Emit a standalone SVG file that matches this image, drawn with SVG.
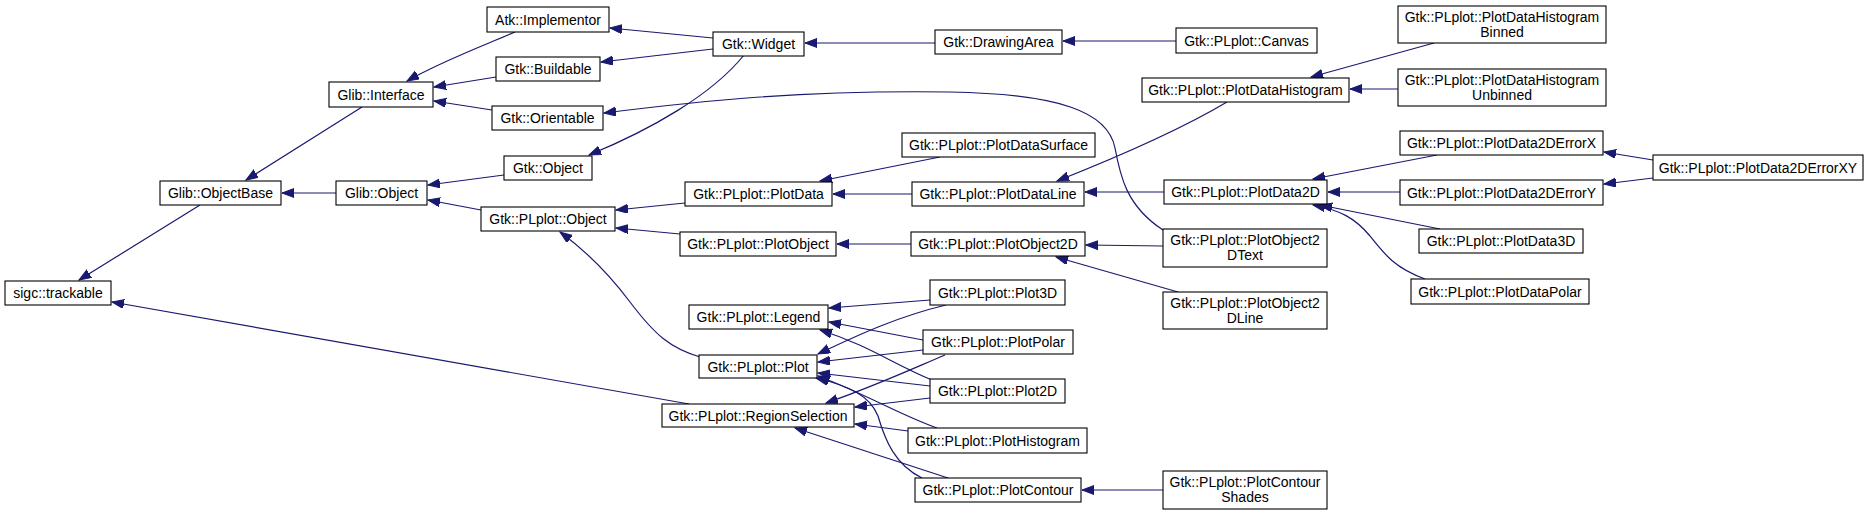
<svg xmlns="http://www.w3.org/2000/svg" width="1867" height="515" viewBox="0 0 1867 515">
<defs>
<style>
.n rect{fill:#fff;stroke:#000;stroke-width:1.1}
.n text{font-family:"Liberation Sans",Arial,sans-serif;font-size:14px;fill:#000;text-anchor:middle}
.e path{fill:none;stroke:#191970;stroke-width:1.2;marker-end:url(#ah)}
</style>
<marker id="ah" markerUnits="userSpaceOnUse" markerWidth="13" markerHeight="10" refX="12" refY="4.5" orient="auto">
<path d="M0,0 L12,4.5 L0,9 z" fill="#191970" stroke="#191970" stroke-width="1"/>
</marker>
</defs>
<rect width="1867" height="515" fill="#fff"/>
<g class="e" id="edges">
<path d="M200,205 L79,280"/>
<path d="M689,404 L112,302"/>
<path d="M362,107 L246,180"/>
<path d="M336,193 L282,193"/>
<path d="M515,32 C480,47 440,62 407,81"/>
<path d="M496,77 L434,87"/>
<path d="M492,110 L434,101"/>
<path d="M504,175 L428,185"/>
<path d="M481,210 L428,200"/>
<path d="M713,38 L610,28"/>
<path d="M713,49 L601,62"/>
<path d="M744,55 C712,95 650,130 589,155"/>
<path d="M1163,230 C1126,206 1120,175 1115,148 C1108,112 1060,94 950,92 C800,90 700,101 604,113"/>
<path d="M935,43 L805,43"/>
<path d="M1176,41 L1063,41"/>
<path d="M1434,43 L1311,77"/>
<path d="M1398,89 L1350,89"/>
<path d="M1227,102 C1180,130 1110,160 1057,181"/>
<path d="M940,157 L820,181"/>
<path d="M912,194 L833,194"/>
<path d="M1164,192 L1085,192"/>
<path d="M1437,155 L1313,179"/>
<path d="M1400,192 L1328,192"/>
<path d="M1440,229 L1320,205"/>
<path d="M1425,279 C1395,268 1385,255 1370,236 C1355,218 1340,210 1313,205"/>
<path d="M1653,160 L1604,152"/>
<path d="M1653,178 L1604,184"/>
<path d="M685,203 L616,210"/>
<path d="M680,234 L616,228"/>
<path d="M700,357 C670,348 655,335 630,302 C606,270 582,248 560,232"/>
<path d="M911,244 L837,244"/>
<path d="M1163,246 L1086,245"/>
<path d="M1178,292 L1056,257"/>
<path d="M930,300 L829,308"/>
<path d="M923,340 L829,322"/>
<path d="M932,380 C895,365 868,345 820,330"/>
<path d="M946,305 C900,316 862,333 818,354"/>
<path d="M923,350 L818,362"/>
<path d="M930,386 L818,373"/>
<path d="M937,428 C900,415 868,395 818,376"/>
<path d="M922,478 C895,465 885,440 878,416 C870,396 850,386 816,378"/>
<path d="M945,355 C905,372 870,388 826,403"/>
<path d="M930,398 L855,407"/>
<path d="M908,431 L855,424"/>
<path d="M948,478 L795,428"/>
<path d="M1163,490 L1082,490"/>
</g>
<g class="n" id="n_sigc"><rect x="5" y="281" width="106" height="24"/><text x="58" y="298">sigc::trackable</text></g>
<g class="n" id="n_objectbase"><rect x="160" y="181" width="121" height="24"/><text x="220.5" y="198">Glib::ObjectBase</text></g>
<g class="n" id="n_interface"><rect x="329" y="82" width="104" height="25"/><text x="381" y="99.5">Glib::Interface</text></g>
<g class="n" id="n_glibobject"><rect x="336" y="181" width="91" height="24"/><text x="381.5" y="198">Glib::Object</text></g>
<g class="n" id="n_atk"><rect x="487" y="7" width="122" height="25"/><text x="548" y="24.5">Atk::Implementor</text></g>
<g class="n" id="n_buildable"><rect x="496" y="57" width="104" height="24"/><text x="548" y="74">Gtk::Buildable</text></g>
<g class="n" id="n_orientable"><rect x="492" y="106" width="111" height="24"/><text x="547.5" y="123">Gtk::Orientable</text></g>
<g class="n" id="n_gtkobject"><rect x="504" y="156" width="88" height="24"/><text x="548" y="173">Gtk::Object</text></g>
<g class="n" id="n_plobject"><rect x="481" y="207" width="134" height="24"/><text x="548" y="224">Gtk::PLplot::Object</text></g>
<g class="n" id="n_widget"><rect x="713" y="32" width="91" height="24"/><text x="758.5" y="49">Gtk::Widget</text></g>
<g class="n" id="n_drawingarea"><rect x="935" y="30" width="127" height="24"/><text x="998.5" y="47">Gtk::DrawingArea</text></g>
<g class="n" id="n_canvas"><rect x="1176" y="28" width="141" height="25"/><text x="1246.5" y="45.5">Gtk::PLplot::Canvas</text></g>
<g class="n" id="n_datahist"><rect x="1142" y="78" width="207" height="24"/><text x="1245.5" y="95">Gtk::PLplot::PlotDataHistogram</text></g>
<g class="n" id="n_binned"><rect x="1398" y="6" width="208" height="37"/><text x="1502" y="22">Gtk::PLplot::PlotDataHistogram</text><text x="1502" y="37">Binned</text></g>
<g class="n" id="n_unbinned"><rect x="1398" y="69" width="208" height="37"/><text x="1502" y="85">Gtk::PLplot::PlotDataHistogram</text><text x="1502" y="100">Unbinned</text></g>
<g class="n" id="n_surface"><rect x="902" y="133" width="193" height="24"/><text x="998.5" y="150">Gtk::PLplot::PlotDataSurface</text></g>
<g class="n" id="n_plotdata"><rect x="685" y="182" width="147" height="24"/><text x="758.5" y="199">Gtk::PLplot::PlotData</text></g>
<g class="n" id="n_dataline"><rect x="912" y="182" width="172" height="24"/><text x="998" y="199">Gtk::PLplot::PlotDataLine</text></g>
<g class="n" id="n_data2d"><rect x="1164" y="180" width="163" height="24"/><text x="1245.5" y="197">Gtk::PLplot::PlotData2D</text></g>
<g class="n" id="n_errx"><rect x="1400" y="131" width="203" height="24"/><text x="1501.5" y="148">Gtk::PLplot::PlotData2DErrorX</text></g>
<g class="n" id="n_erry"><rect x="1400" y="180" width="203" height="25"/><text x="1501.5" y="197.5">Gtk::PLplot::PlotData2DErrorY</text></g>
<g class="n" id="n_errxy"><rect x="1653" y="155" width="210" height="25"/><text x="1758" y="172.5">Gtk::PLplot::PlotData2DErrorXY</text></g>
<g class="n" id="n_data3d"><rect x="1419" y="229" width="164" height="24"/><text x="1501" y="246">Gtk::PLplot::PlotData3D</text></g>
<g class="n" id="n_datapolar"><rect x="1411" y="279" width="178" height="25"/><text x="1500" y="296.5">Gtk::PLplot::PlotDataPolar</text></g>
<g class="n" id="n_plotobject"><rect x="680" y="232" width="156" height="24"/><text x="758" y="249">Gtk::PLplot::PlotObject</text></g>
<g class="n" id="n_plotobject2d"><rect x="911" y="232" width="174" height="24"/><text x="998" y="249">Gtk::PLplot::PlotObject2D</text></g>
<g class="n" id="n_text2d"><rect x="1163" y="229" width="164" height="38"/><text x="1245" y="245">Gtk::PLplot::PlotObject2</text><text x="1245" y="260">DText</text></g>
<g class="n" id="n_line2d"><rect x="1163" y="292" width="164" height="37"/><text x="1245" y="308">Gtk::PLplot::PlotObject2</text><text x="1245" y="323">DLine</text></g>
<g class="n" id="n_legend"><rect x="689" y="305" width="139" height="24"/><text x="758.5" y="322">Gtk::PLplot::Legend</text></g>
<g class="n" id="n_plot3d"><rect x="930" y="280" width="135" height="25"/><text x="997.5" y="297.5">Gtk::PLplot::Plot3D</text></g>
<g class="n" id="n_plotpolar"><rect x="923" y="330" width="150" height="24"/><text x="998" y="347">Gtk::PLplot::PlotPolar</text></g>
<g class="n" id="n_plot"><rect x="699" y="355" width="118" height="23"/><text x="758" y="371.5">Gtk::PLplot::Plot</text></g>
<g class="n" id="n_plot2d"><rect x="930" y="379" width="135" height="24"/><text x="997.5" y="396">Gtk::PLplot::Plot2D</text></g>
<g class="n" id="n_region"><rect x="662" y="404" width="192" height="23"/><text x="758" y="420.5">Gtk::PLplot::RegionSelection</text></g>
<g class="n" id="n_plothist"><rect x="908" y="428" width="179" height="25"/><text x="997.5" y="445.5">Gtk::PLplot::PlotHistogram</text></g>
<g class="n" id="n_contour"><rect x="915" y="478" width="166" height="24"/><text x="998" y="495">Gtk::PLplot::PlotContour</text></g>
<g class="n" id="n_shades"><rect x="1163" y="471" width="164" height="38"/><text x="1245" y="487">Gtk::PLplot::PlotContour</text><text x="1245" y="502">Shades</text></g>
</svg>
